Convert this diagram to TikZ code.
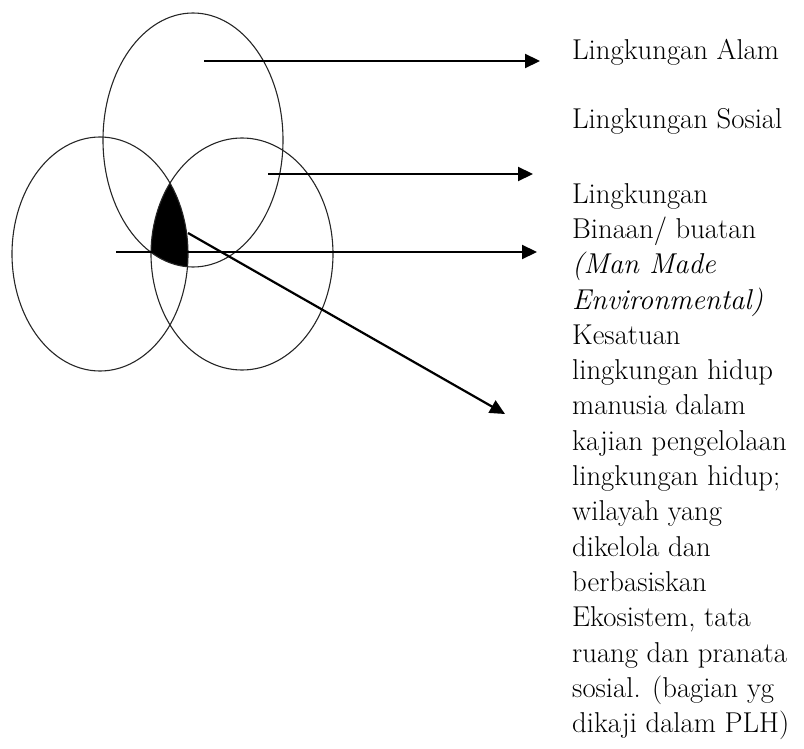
\documentclass[tikz,border=0pt]{standalone}
\usepackage{tikz}
\usetikzlibrary{arrows.meta,positioning}

\begin{document}
\begin{tikzpicture}[x=1pt, y=-1pt, >={Triangle[length=15pt,width=14pt]}]
    \tikzstyle{ring}=[draw=black!85, line width=1.1pt]
    \tikzstyle{pointer}=[->, line width=2.2pt]
    \tikzstyle{txt}=[anchor=north west, inner sep=0pt, align=left, font=\fontsize{28.7}{35.3}\selectfont]
    \useasboundingbox (0,0) rectangle (804,749);

    % Part shared by all three
    \begin{scope}
        \clip (193,140) ellipse [x radius=90, y radius=127];
        \clip (100,254) ellipse [x radius=88, y radius=117];
        \fill (242,254) ellipse [x radius=91, y radius=116];
    \end{scope}

    % Circles
    \draw[ring] (193,140) ellipse [x radius=90, y radius=127];
    \draw[ring] (100,254) ellipse [x radius=88, y radius=117];
    \draw[ring] (242,254) ellipse [x radius=91, y radius=116];

    % Texts
    \node[txt] (alam) at (572,39) {Lingkungan Alam};
    \node[txt] (sosial) at (572,108) {Lingkungan Sosial};
    \node[txt] (binaan) at (572,183) {Lingkungan\\Binaan/ buatan\\\textit{(Man Made}\\\textit{Environmental)}\\Kesatuan\\lingkungan hidup\\manusia dalam\\kajian pengelolaan\\lingkungan hidup;\\wilayah yang\\dikelola dan\\berbasiskan\\Ekosistem, tata\\ruang dan pranata\\sosial. (bagian yg\\dikaji dalam PLH)};

    % Arrow ends
    \coordinate (fromAlam) at (204,61);
    \coordinate (toAlam) at (540,61);
    \coordinate (fromSosial) at (268,174);
    \coordinate (toSosial) at (533,174);
    \coordinate (fromBinaan) at (116,252);
    \coordinate (toBinaan) at (537,252);
    \coordinate (fromCore) at (188,233);
    \coordinate (toCore) at (505,414);

    % Arrows
    \draw[pointer] (fromAlam) -- (toAlam);
    \draw[pointer] (fromSosial) -- (toSosial);
    \draw[pointer] (fromBinaan) -- (toBinaan);
    \draw[pointer] (fromCore) -- (toCore);
\end{tikzpicture}
\end{document}
